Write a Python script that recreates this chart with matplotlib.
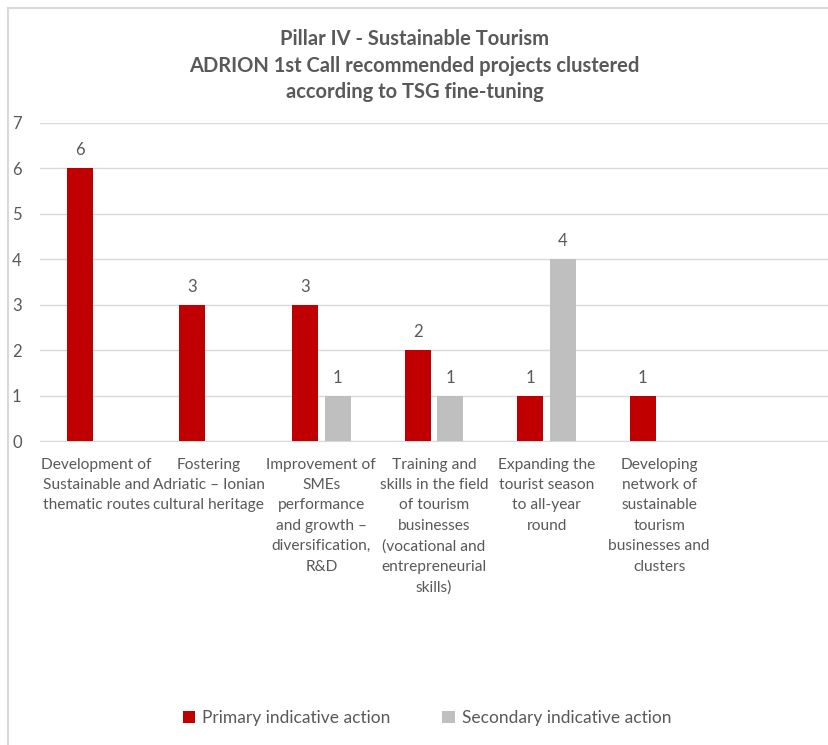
import matplotlib
matplotlib.use("Agg")
import matplotlib.pyplot as plt
import numpy as np
from matplotlib.patches import Rectangle

plt.rcParams["font.family"] = ["Lato", "DejaVu Sans"]

RED = "#C00000"
LIGHT = "#BFBFBF"
TEXT = "#595959"

# ── Data ──────────────────────────────────────────────────────────────────────
categories = [
    "Development of\nSustainable and\nthematic routes",
    "Fostering\nAdriatic \u2013 Ionian\ncultural heritage",
    "Improvement of\nSMEs\nperformance\nand growth \u2013\ndiversification,\nR&D",
    "Training and\nskills in the field\nof tourism\nbusinesses\n(vocational and\nentrepreneurial\nskills)",
    "Expanding the\ntourist season\nto all-year\nround",
    "Developing\nnetwork of\nsustainable\ntourism\nbusinesses and\nclusters",
    "",
]
primary = [6, 3, 3, 2, 1, 1, 0]
secondary = [0, 0, 1, 1, 4, 0, 0]
series_names = ["Primary indicative action", "Secondary indicative action"]

fig = plt.figure(figsize=(8.29, 7.45), dpi=100)
ax = fig.add_axes([0.048, 0.408, 0.951, 0.427])

x = np.arange(len(categories))
w = 0.23
off = 0.145
b1 = ax.bar(x - off, primary, w, color=RED, label=series_names[0], zorder=3)
b2 = ax.bar(x + off, secondary, w, color=LIGHT, label=series_names[1], zorder=3)

for bars, vals in ((b1, primary), (b2, secondary)):
    for bar, v in zip(bars, vals):
        if v > 0:
            ax.text(bar.get_x() + bar.get_width() / 2, v + 0.22, str(v),
                    ha="center", va="bottom", fontsize=12, color=TEXT)

ax.set_xlim(-0.5, len(categories) - 0.5)
ax.set_ylim(0, 7)
ax.set_yticks(range(8))
ax.yaxis.grid(True, color="#D9D9D9", linewidth=1, zorder=0)
ax.set_axisbelow(True)
for s in ("top", "right", "left"):
    ax.spines[s].set_visible(False)
ax.spines["bottom"].set_color("#D9D9D9")
ax.tick_params(axis="y", length=0, labelsize=12, labelcolor=TEXT, pad=20)
ax.tick_params(axis="x", length=0)
ax.set_xticks(x)
ax.set_xticklabels([])
for xi, lab in zip(x, categories):
    ax.annotate(lab, xy=(xi, 0), xycoords="data", xytext=(0, -12),
                textcoords="offset points", ha="center", va="top",
                fontsize=11.2, color=TEXT, linespacing=1.58)
for t in ax.get_yticklabels():
    t.set_horizontalalignment("left")

fig.text(0.5, 0.947, "Pillar IV - Sustainable Tourism", ha="center", va="center",
         fontsize=14.5, fontweight="bold", color=TEXT)
fig.text(0.5, 0.911, "ADRION 1st Call recommended projects clustered", ha="center",
         va="center", fontsize=14.5, fontweight="bold", color=TEXT)
fig.text(0.5, 0.876, "according to TSG fine-tuning", ha="center", va="center",
         fontsize=14.5, fontweight="bold", color=TEXT)

fig.legend(handles=[b1, b2], labels=series_names, loc="center",
           bbox_to_anchor=(0.515, 0.036), ncol=2, frameon=False, fontsize=12.5,
           labelcolor=TEXT, handlelength=0.7, handleheight=0.7,
           handletextpad=0.4, columnspacing=3)

fig.add_artist(Rectangle((0.01, -0.01), 0.995, 1.0 - 0.0007, transform=fig.transFigure,
                         fill=False, edgecolor="#D9D9D9", linewidth=1.5))

fig.savefig("out.png", dpi=100, facecolor="white")
